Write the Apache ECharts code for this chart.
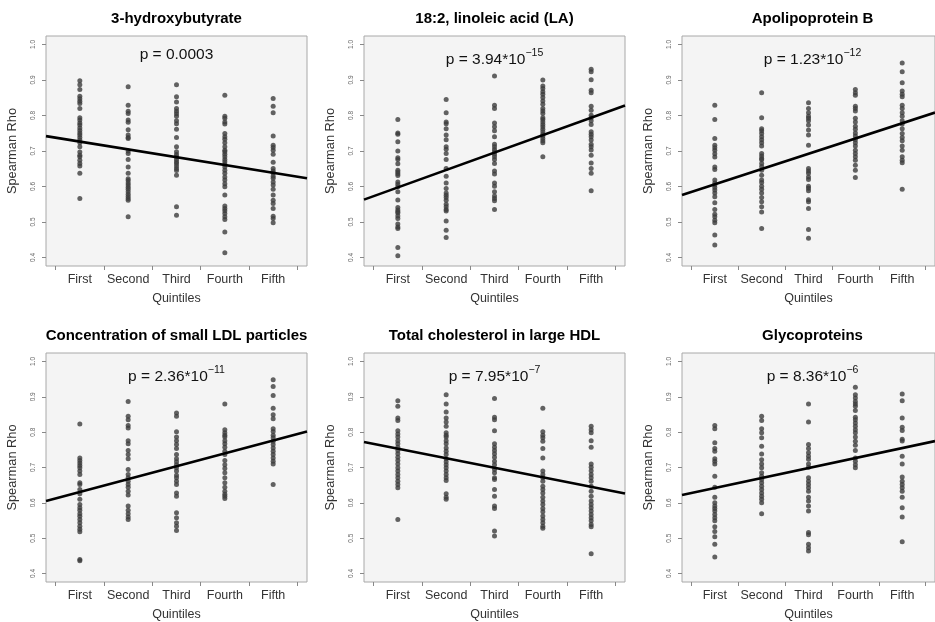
<!DOCTYPE html>
<html>
<head>
<meta charset="utf-8">
<script src="https://cdn.jsdelivr.net/npm/echarts@6/dist/echarts.min.js"></script>
<style>
html,body{margin:0;padding:0;background:#fff;}
#chart{width:935px;height:622px;}
</style>
</head>
<body>
<div id="chart"></div>
<script>
// ---------- data ----------
const categories = ['First', 'Second', 'Third', 'Fourth', 'Fifth'];
const panelTitles = ['3-hydroxybutyrate', '18:2, linoleic acid (LA)', 'Apolipoprotein B',
  'Concentration of small LDL particles', 'Total cholesterol in large HDL', 'Glycoproteins'];
const pMantissa = ['0.0003', '3.94', '1.23', '2.36', '7.95', '8.36'];
const pExponent = ['', '\u221215', '\u221212', '\u221211', '\u22127', '\u22126'];
const yTickValues = [0.4, 0.5, 0.6, 0.7, 0.8, 0.9, 1.0];
const xTickValues = [0.5, 1.5, 2.5, 3.5, 4.5, 5.5];
const xLabelValues = [1, 2, 3, 4, 5];

// regression lines: y = intercept + slope * quintile
const fitIntercept = [0.7486, 0.5483, 0.5631, 0.5941, 0.7801, 0.6135];
const fitSlope = [-0.0220, 0.0491, 0.0430, 0.0365, -0.0270, 0.0283];

const hydroxybutyrate = [
  [0.898,0.887,0.873,0.854,0.847,0.840,0.834,0.820,0.794,0.787,0.779,0.773,0.765,0.758,0.751,0.745,0.738,0.731,0.723,0.712,0.697,0.688,0.684,0.674,0.665,0.658,0.637,0.566],
  [0.881,0.829,0.812,0.806,0.787,0.781,0.760,0.745,0.738,0.735,0.700,0.693,0.676,0.655,0.637,0.622,0.617,0.610,0.604,0.598,0.592,0.585,0.578,0.572,0.566,0.561,0.515],
  [0.887,0.853,0.838,0.820,0.812,0.805,0.798,0.785,0.777,0.761,0.738,0.712,0.698,0.690,0.684,0.676,0.670,0.665,0.658,0.651,0.645,0.632,0.543,0.519],
  [0.857,0.798,0.792,0.782,0.776,0.749,0.740,0.733,0.723,0.712,0.702,0.698,0.691,0.684,0.676,0.670,0.663,0.655,0.646,0.637,0.627,0.618,0.608,0.599,0.576,0.545,0.538,0.532,0.524,0.515,0.507,0.472,0.413],
  [0.848,0.826,0.808,0.742,0.716,0.710,0.702,0.691,0.668,0.651,0.644,0.637,0.629,0.623,0.613,0.604,0.592,0.576,0.561,0.552,0.538,0.516,0.510,0.498]
];
const linoleicAcid = [
  [0.789,0.751,0.747,0.726,0.700,0.681,0.676,0.664,0.646,0.641,0.636,0.631,0.613,0.606,0.599,0.585,0.562,0.541,0.534,0.529,0.525,0.517,0.510,0.494,0.486,0.482,0.428,0.405],
  [0.845,0.808,0.782,0.777,0.763,0.745,0.732,0.712,0.705,0.693,0.676,0.651,0.629,0.610,0.594,0.582,0.575,0.569,0.561,0.550,0.543,0.535,0.531,0.503,0.477,0.456],
  [0.911,0.829,0.820,0.779,0.768,0.757,0.740,0.719,0.712,0.704,0.698,0.691,0.684,0.676,0.665,0.644,0.635,0.610,0.601,0.585,0.573,0.566,0.560,0.535],
  [0.900,0.883,0.876,0.867,0.860,0.851,0.841,0.832,0.820,0.813,0.806,0.794,0.789,0.782,0.775,0.768,0.761,0.754,0.747,0.742,0.735,0.729,0.723,0.684],
  [0.930,0.923,0.901,0.871,0.864,0.826,0.815,0.801,0.794,0.785,0.775,0.754,0.747,0.740,0.731,0.719,0.712,0.703,0.688,0.666,0.651,0.637,0.588]
];
const apolipoproteinB = [
  [0.829,0.789,0.735,0.716,0.709,0.702,0.692,0.683,0.655,0.648,0.618,0.610,0.604,0.597,0.590,0.582,0.571,0.554,0.535,0.522,0.515,0.505,0.498,0.463,0.435],
  [0.864,0.794,0.763,0.757,0.749,0.740,0.732,0.723,0.714,0.693,0.686,0.679,0.675,0.665,0.656,0.646,0.632,0.618,0.611,0.601,0.592,0.582,0.569,0.557,0.543,0.528,0.482],
  [0.836,0.820,0.808,0.798,0.792,0.785,0.773,0.759,0.745,0.716,0.651,0.644,0.637,0.627,0.620,0.601,0.595,0.588,0.563,0.557,0.538,0.479,0.454],
  [0.873,0.864,0.857,0.826,0.820,0.813,0.792,0.782,0.770,0.761,0.751,0.742,0.732,0.723,0.714,0.702,0.693,0.684,0.674,0.660,0.646,0.625],
  [0.948,0.923,0.892,0.869,0.860,0.853,0.829,0.820,0.808,0.798,0.785,0.776,0.763,0.749,0.738,0.729,0.714,0.702,0.684,0.674,0.667,0.592]
];
const smallLDL = [
  [0.823,0.727,0.720,0.713,0.706,0.699,0.690,0.680,0.657,0.652,0.638,0.626,0.610,0.595,0.586,0.579,0.569,0.562,0.553,0.544,0.534,0.525,0.518,0.440,0.436],
  [0.887,0.845,0.835,0.819,0.812,0.776,0.767,0.748,0.737,0.725,0.694,0.680,0.671,0.661,0.652,0.644,0.633,0.622,0.591,0.579,0.569,0.560,0.553],
  [0.854,0.845,0.801,0.786,0.776,0.765,0.754,0.737,0.725,0.716,0.708,0.699,0.690,0.678,0.671,0.661,0.652,0.628,0.619,0.572,0.558,0.544,0.534,0.522],
  [0.880,0.807,0.798,0.791,0.786,0.776,0.767,0.757,0.746,0.737,0.720,0.708,0.697,0.685,0.671,0.657,0.644,0.633,0.624,0.619,0.612],
  [0.948,0.929,0.904,0.868,0.849,0.838,0.810,0.802,0.791,0.784,0.774,0.765,0.755,0.746,0.737,0.727,0.718,0.710,0.652]
];
const largeHDL = [
  [0.889,0.873,0.840,0.833,0.804,0.795,0.786,0.776,0.767,0.757,0.748,0.739,0.729,0.720,0.710,0.699,0.690,0.680,0.671,0.661,0.652,0.643,0.553],
  [0.906,0.880,0.857,0.840,0.829,0.817,0.798,0.791,0.786,0.776,0.767,0.755,0.746,0.737,0.725,0.716,0.708,0.699,0.690,0.680,0.671,0.663,0.626,0.616,0.610],
  [0.895,0.842,0.835,0.804,0.767,0.757,0.748,0.739,0.729,0.718,0.708,0.694,0.685,0.671,0.666,0.638,0.619,0.591,0.584,0.520,0.506],
  [0.868,0.801,0.791,0.784,0.774,0.754,0.727,0.690,0.680,0.671,0.661,0.647,0.638,0.628,0.616,0.605,0.595,0.584,0.575,0.563,0.553,0.544,0.534,0.528],
  [0.817,0.807,0.798,0.776,0.757,0.710,0.701,0.691,0.680,0.671,0.661,0.647,0.633,0.619,0.605,0.595,0.586,0.577,0.567,0.558,0.549,0.539,0.532,0.456]
];
const glycoproteins = [
  [0.819,0.810,0.770,0.754,0.746,0.725,0.718,0.710,0.675,0.644,0.616,0.600,0.591,0.584,0.577,0.567,0.558,0.549,0.532,0.519,0.504,0.483,0.447],
  [0.845,0.833,0.810,0.798,0.784,0.760,0.738,0.722,0.710,0.699,0.685,0.675,0.666,0.657,0.647,0.638,0.628,0.619,0.610,0.600,0.569],
  [0.880,0.829,0.765,0.754,0.742,0.732,0.723,0.710,0.701,0.671,0.661,0.652,0.643,0.633,0.616,0.605,0.591,0.577,0.516,0.510,0.483,0.473,0.464],
  [0.927,0.906,0.897,0.887,0.880,0.873,0.861,0.842,0.835,0.826,0.817,0.807,0.798,0.786,0.774,0.763,0.748,0.727,0.718,0.708,0.699],
  [0.908,0.889,0.840,0.814,0.805,0.780,0.775,0.732,0.710,0.673,0.661,0.652,0.643,0.633,0.616,0.586,0.560,0.490]
];
const panelData = [hydroxybutyrate, linoleicAcid, apolipoproteinB, smallLDL, largeHDL, glycoproteins];

// ---------- layout ----------
const FONT = '"Liberation Sans", Arial, Helvetica, sans-serif';
const colLeft = [46, 364, 682];
const rowTop = [36, 353];
const gridW = 261, gridH = 230;
const xMin = 0.3, xMax = 5.7, yMin = 0.376, yMax = 1.024;

const grids = [], xAxes = [], yAxes = [], series = [], graphics = [];

panelData.forEach((groups, i) => {
  const col = i % 3, row = Math.floor(i / 3);
  const left = colLeft[col], top = rowTop[row];
  grids.push({
    left: left, top: top, width: gridW, height: gridH,
    show: true, backgroundColor: '#f4f4f4', borderColor: '#a8a8a8', borderWidth: 1,
    containLabel: false
  });
  xAxes.push({
    type: 'value', gridIndex: i, min: xMin, max: xMax,
    axisLine: { show: false },
    splitLine: { show: false },
    axisTick: { show: true, length: 4, customValues: xTickValues, lineStyle: { color: '#888', width: 1 } },
    axisLabel: {
      show: true, customValues: xLabelValues, margin: 7,
      fontSize: 12.5, color: '#333', fontFamily: FONT,
      formatter: v => categories[Math.round(v) - 1] || ''
    },
    name: 'Quintiles', nameLocation: 'middle', nameGap: 26,
    nameTextStyle: { fontSize: 12.5, color: '#333', fontFamily: FONT }
  });
  yAxes.push({
    type: 'value', gridIndex: i, min: yMin, max: yMax,
    axisLine: { show: false },
    splitLine: { show: false },
    axisTick: { show: true, length: 4, customValues: yTickValues, lineStyle: { color: '#888', width: 1 } },
    axisLabel: {
      show: true, customValues: yTickValues, rotate: 90, margin: 9,
      fontSize: 6.5, color: '#666', fontFamily: FONT,
      formatter: v => v.toFixed(1)
    },
    name: 'Spearman Rho', nameLocation: 'middle', nameGap: 27,
    nameTextStyle: { fontSize: 12.8, color: '#333', fontFamily: FONT }
  });

  const pts = [];
  groups.forEach((vals, q) => vals.forEach(v => pts.push([q + 1, v])));
  series.push({
    type: 'scatter', xAxisIndex: i, yAxisIndex: i, data: pts,
    symbol: 'circle', symbolSize: 5,
    itemStyle: { color: '#3c3c3c' }, z: 2
  });
  series.push({
    type: 'line', xAxisIndex: i, yAxisIndex: i,
    data: [[xMin, fitIntercept[i] + fitSlope[i] * xMin], [xMax, fitIntercept[i] + fitSlope[i] * xMax]],
    symbol: 'none', lineStyle: { color: '#000', width: 2.6 }, z: 3, silent: true
  });

  const cx = left + gridW / 2;
  graphics.push({
    type: 'text', x: cx, y: top - 17.5,
    style: {
      text: panelTitles[i], fill: '#000', font: 'bold 15px ' + FONT,
      textAlign: 'center', textVerticalAlign: 'middle', align: 'center', verticalAlign: 'middle'
    }
  });
  const hasExp = pExponent[i] !== '';
  const ptext = hasExp ? '{a|p = ' + pMantissa[i] + '*10}{s|' + pExponent[i] + '}' : '{a|p = ' + pMantissa[i] + '}';
  graphics.push({
    type: 'text', x: cx, y: top + (hasExp ? 23.5 : 18.7),
    style: {
      text: ptext, fill: '#111',
      textAlign: 'center', textVerticalAlign: 'middle', align: 'center', verticalAlign: 'middle',
      rich: {
        a: { fontSize: 15.5, fontFamily: FONT, lineHeight: 24, fill: '#111', color: '#111' },
        s: { fontSize: 10.5, fontFamily: FONT, lineHeight: 10.5, verticalAlign: 'top', fill: '#111', color: '#111' }
      }
    }
  });
});

const chart = echarts.init(document.getElementById('chart'), null, { renderer: 'canvas' });
chart.setOption({
  animation: false,
  backgroundColor: '#fff',
  grid: grids, xAxis: xAxes, yAxis: yAxes, series: series,
  graphic: { elements: graphics }
});
</script>
</body>
</html>
